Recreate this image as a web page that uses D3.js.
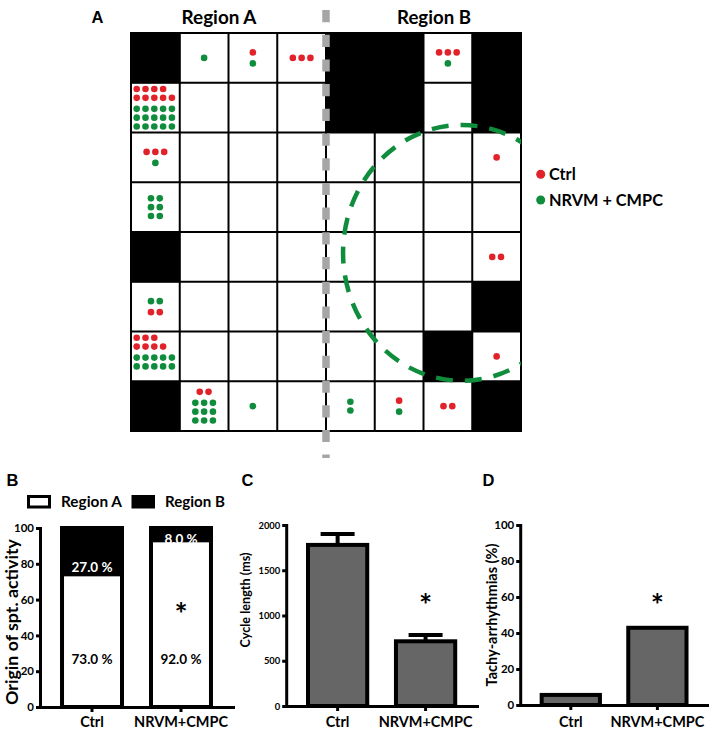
<!DOCTYPE html>
<html><head><meta charset="utf-8">
<script src="https://cdn.jsdelivr.net/npm/d3@7"></script>
<style>
html,body{margin:0;padding:0;background:#fff;}
svg{display:block;}
text{font-family:Lato,"Open Sans",sans-serif;font-weight:700;fill:#000;}
</style></head><body>
<svg id="c" width="709" height="729"></svg>
<script>
// ================= DATA =================
const gridSize = 8;
const regionTitles = ["Region A", "Region B"];
// black (inactive) cells: [row, col]
const blackCells = [[0,0],[0,4],[0,5],[0,7],[1,4],[1,5],[1,7],[4,0],[5,7],[6,6],[7,0],[7,7]];
// origin of spontaneous activity per cell: rows of [group, count]; r = Ctrl, g = NRVM + CMPC
const dotCells = [
  {row:0,col:1,rows:[["g",1]]},
  {row:0,col:2,rows:[["r",1],["g",1]]},
  {row:0,col:3,rows:[["r",3]]},
  {row:0,col:6,rows:[["r",3],["g",1]]},
  {row:1,col:0,rows:[["r",4],["r",5],["g",5],["g",5],["g",5]],align:"tl"},
  {row:2,col:0,rows:[["r",3],["g",1]]},
  {row:2,col:7,rows:[["r",1]]},
  {row:3,col:0,rows:[["g",2],["g",2],["g",2]]},
  {row:4,col:7,rows:[["r",2]]},
  {row:5,col:0,rows:[["g",2],["r",2]]},
  {row:6,col:0,rows:[["r",3],["r",4],["g",5],["g",5]],align:"tl"},
  {row:6,col:7,rows:[["r",1]]},
  {row:7,col:1,rows:[["r",2],["g",3],["g",3],["g",3]]},
  {row:7,col:2,rows:[["g",1]]},
  {row:7,col:4,rows:[["g",1],["g",1]]},
  {row:7,col:5,rows:[["r",1],["g",1]]},
  {row:7,col:6,rows:[["r",2]]}
];
// dashed ellipse (grid units)
const ellipseGrid = {cx:6.79, cy:4.42, rx:2.44, ry:2.57};
const seriesNames = ["Ctrl", "NRVM + CMPC"];

const categories = ["Ctrl", "NRVM+CMPC"];
const originRegionA = [73, 92];
const originRegionB = [27, 8];
const originTicks = [0, 20, 40, 60, 80, 100];
const originStar = 54;

const cycleLength = [1780, 715];
const cycleLengthSEM = [120, 70];
const cycleTicks = [0, 500, 1000, 1500, 2000];
const cycleStar = 1165;

const tachy = [5.6, 42.9];
const tachyTicks = [0, 20, 40, 60, 80, 100];
const tachyStar = 58;

// ================= DRAW =================
const svg = d3.select("#c");
svg.append("rect").attr("width",709).attr("height",729).attr("fill","#fff");
const RED = "#e2222a", GREEN = "#0f8d3d";

function fit(sel, target){
  sel.each(function(){
    const w = this.getComputedTextLength();
    const fs = parseFloat(getComputedStyle(this).fontSize);
    if (w>0) this.style.fontSize = (fs*target/w) + "px";
  });
  return sel;
}

// ---------- Panel A ----------
const gx = d3.scaleLinear().domain([0,gridSize]).range([131,521]);
const gy = d3.scaleLinear().domain([0,gridSize]).range([33,431]);
const cw = gx(1)-gx(0), ch = gy(1)-gy(0);
const A = svg.append("g");

A.selectAll("rect.blk").data(blackCells).join("rect")
  .attr("x", d=>gx(d[1])).attr("y", d=>gy(d[0]))
  .attr("width", cw+0.5).attr("height", ch+0.5).attr("fill","#000");

A.selectAll("line.v").data(d3.range(gridSize+1)).join("line")
  .attr("x1", d=>gx(d)).attr("x2", d=>gx(d)).attr("y1", gy(0)-1).attr("y2", gy(gridSize)+1)
  .attr("stroke","#000").attr("stroke-width",2);
A.selectAll("line.h").data(d3.range(gridSize+1)).join("line")
  .attr("y1", d=>gy(d)).attr("y2", d=>gy(d)).attr("x1", gx(0)-1).attr("x2", gx(gridSize)+1)
  .attr("stroke","#000").attr("stroke-width",2);

// dots
const dots = [];
dotCells.forEach(c=>{
  const ys=[0];
  for(let i=1;i<c.rows.length;i++) ys.push(ys[i-1] + (c.rows[i][0]===c.rows[i-1][0] ? 8.8 : 11));
  const hs = 8.8;
  const y0 = c.align==="tl" ? gy(c.row)+6.3 : gy(c.row)+ch/2 - ys[ys.length-1]/2;
  c.rows.forEach((r,i)=>{
    for(let j=0;j<r[1];j++){
      const x = c.align==="tl" ? gx(c.col)+5.7+j*hs : gx(c.col)+cw/2-(r[1]-1)*hs/2+j*hs;
      dots.push({x, y:y0+ys[i], g:r[0]});
    }
  });
});
A.selectAll("circle.dot").data(dots).join("circle")
  .attr("cx", d=>d.x).attr("cy", d=>d.y).attr("r",3.3)
  .attr("fill", d=>d.g==="r"?RED:GREEN);

// gray dashed separator
A.append("line").attr("x1",gx(4)).attr("x2",gx(4)).attr("y1",10).attr("y2",458)
  .attr("stroke","#a6a6a6").attr("stroke-width",7.5).attr("stroke-dasharray","12.2 12.5");

// green dashed ellipse
svg.append("clipPath").attr("id","gclip").append("rect")
  .attr("x",0).attr("y",0).attr("width",gx(gridSize)).attr("height",729);
A.append("ellipse").attr("clip-path","url(#gclip)")
  .attr("cx",gx(ellipseGrid.cx)).attr("cy",gy(ellipseGrid.cy))
  .attr("rx",gx(ellipseGrid.rx)-gx(0)).attr("ry",gy(ellipseGrid.ry)-gy(0))
  .attr("fill","none").attr("stroke",GREEN).attr("stroke-width",4.5).attr("stroke-dasharray","17 12");

// titles
fit(A.append("text").attr("x",219).attr("y",24).attr("text-anchor","middle").style("font-size","17px").text(regionTitles[0]),75);
fit(A.append("text").attr("x",434).attr("y",24).attr("text-anchor","middle").style("font-size","17px").text(regionTitles[1]),74);

// legend
const leg = A.append("g");
seriesNames.forEach((s,i)=>{
  leg.append("circle").attr("cx",540.7).attr("cy",174.3+i*25.7).attr("r",4.5).attr("fill",i===0?RED:GREEN);
  const t = leg.append("text").attr("x",549).attr("y",174.3+i*25.7).attr("dy","0.36em").style("font-size","16px").text(s);
  fit(t, i===0?26.7:114);
});

// panel letters
[["A",91.5,23],["B",6.5,486],["C",241.5,486],["D",482.5,486]].forEach(p=>{
  svg.append("text").attr("x",p[1]).attr("y",p[2])
    .style("font-family","'Liberation Sans',Arial,sans-serif").style("font-size","16.5px").text(p[0]);
});

// ---------- helpers for bar panels ----------
function yAxis(g, scale, ticks, x, labelW){
  const ax = g.append("g").attr("transform",`translate(${x},0)`)
    .call(d3.axisLeft(scale).tickValues(ticks).tickFormat(d3.format("d")).tickSize(4).tickPadding(2).tickSizeOuter(0));
  ax.select(".domain").attr("stroke-width",3).attr("stroke-linecap","square");
  ax.selectAll(".tick line").attr("stroke-width",3);
  ax.attr("font-family",null).attr("font-size",null);
  const txt = ax.selectAll(".tick text").style("font-size","12px");
  let maxW = 0;
  txt.each(function(){ maxW=Math.max(maxW,this.getComputedTextLength()); });
  txt.style("font-size", (12*labelW/maxW)+"px");
  return ax;
}
function xAxis(g, band, y, catW){
  const ax = g.append("g").attr("transform",`translate(0,${y})`)
    .call(d3.axisBottom(band).tickSize(5).tickSizeOuter(0));
  ax.select(".domain").attr("stroke-width",3).attr("stroke-linecap","square");
  ax.selectAll(".tick line").attr("stroke-width",3);
  ax.attr("font-family",null).attr("font-size",null);
  const txt = ax.selectAll(".tick text").style("font-size","14px");
  let maxW=0; txt.each(function(){ maxW=Math.max(maxW,this.getComputedTextLength()); });
  txt.style("font-size",(14*catW/maxW)+"px").attr("y",727-y).attr("dy",null);
  return ax;
}
function yTitle(g, text, cx, cy, len){
  const t = g.append("text").attr("transform",`translate(${cx},${cy}) rotate(-90)`)
    .attr("text-anchor","middle").attr("dy","0.35em").style("font-size","14px").text(text);
  fit(t, len);
}
function star(g, x, y){
  g.append("text").attr("x",x).attr("y",y+15).attr("text-anchor","middle").style("font-size","31px").text("*");
}
function band(x0,x1){ return d3.scaleBand().domain(categories).range([x0,x1]).paddingInner(0.281).paddingOuter(0.225); }

// ---------- Panel B ----------
const B = svg.append("g");
const yB = d3.scaleLinear().domain([0,100]).range([707,528]);
const xB = band(40,233);
// legend
B.append("rect").attr("x",28.5).attr("y",496.5).attr("width",21).attr("height",10.5).attr("fill","#fff").attr("stroke","#000").attr("stroke-width",3);
B.append("rect").attr("x",131.5).attr("y",495).attr("width",23.5).attr("height",13.5).attr("fill","#000");
fit(B.append("text").attr("x",61).attr("y",506.5).style("font-size","14px").text(regionTitles[0]),61);
fit(B.append("text").attr("x",165).attr("y",506.5).style("font-size","14px").text(regionTitles[1]),60);

categories.forEach((c,i)=>{
  const x = xB(c), w = xB.bandwidth();
  B.append("rect").attr("x",x).attr("width",w).attr("y",yB(originRegionA[i])).attr("height",yB(0)-yB(originRegionA[i])).attr("fill","#fff");
  B.append("rect").attr("x",x).attr("width",w).attr("y",yB(100)).attr("height",yB(originRegionA[i])-yB(100)).attr("fill","#000");
  B.append("rect").attr("x",x+2).attr("width",w-4).attr("y",yB(100)).attr("height",yB(0)-yB(100)).attr("fill","none").attr("stroke","#000").attr("stroke-width",4);
  B.append("text").attr("x",x+w/2).attr("y",yB(originRegionA[i]+originRegionB[i]*0.2)).attr("dy","0.36em")
    .attr("text-anchor","middle").style("fill","#fff").style("font-size","13.5px").text(d3.format(".1f")(originRegionB[i])+" %");
  B.append("text").attr("x",x+w/2).attr("y",yB(27)).attr("dy","0.36em")
    .attr("text-anchor","middle").style("font-size","13.5px").text(d3.format(".1f")(originRegionA[i])+" %");
});
star(B, xB(categories[1])+xB.bandwidth()/2, yB(originStar));
yAxis(B, yB, originTicks, 40, 20);
xAxis(B, xB, 707, 94);
yTitle(B, "Origin of spt. activity", 12, 622, 166);

// ---------- Panel C ----------
const C = svg.append("g");
const yC = d3.scaleLinear().domain([0,2000]).range([706,525]);
const xC = band(286.2,477);
categories.forEach((c,i)=>{
  const x = xC(c), w = xC.bandwidth(), cx = x+w/2;
  const top = yC(cycleLength[i]+cycleLengthSEM[i]);
  C.append("line").attr("x1",cx).attr("x2",cx).attr("y1",yC(cycleLength[i])).attr("y2",top).attr("stroke","#000").attr("stroke-width",4);
  C.append("line").attr("x1",cx-17).attr("x2",cx+17).attr("y1",top).attr("y2",top).attr("stroke","#000").attr("stroke-width",4);
  C.append("rect").attr("x",x+2).attr("width",w-4).attr("y",yC(cycleLength[i])).attr("height",yC(0)-yC(cycleLength[i]))
    .attr("fill","#666").attr("stroke","#000").attr("stroke-width",4);
});
star(C, xC(categories[1])+xC.bandwidth()/2, yC(cycleStar));
yAxis(C, yC, cycleTicks, 286.2, 21.7);
xAxis(C, xC, 706, 94);
yTitle(C, "Cycle length (ms)", 246, 600, 95);

// ---------- Panel D ----------
const D = svg.append("g");
const yD = d3.scaleLinear().domain([0,100]).range([705,525]);
const xD = band(520.2,708);
categories.forEach((c,i)=>{
  const x = xD(c), w = xD.bandwidth();
  D.append("rect").attr("x",x+2).attr("width",w-4).attr("y",yD(tachy[i])).attr("height",yD(0)-yD(tachy[i]))
    .attr("fill","#666").attr("stroke","#000").attr("stroke-width",4);
});
star(D, xD(categories[1])+xD.bandwidth()/2, yD(tachyStar));
yAxis(D, yD, tachyTicks, 520.2, 20);
xAxis(D, xD, 705, 94);
yTitle(D, "Tachy-arrhythmias (%)", 492, 615, 143);
</script>
</body></html>
